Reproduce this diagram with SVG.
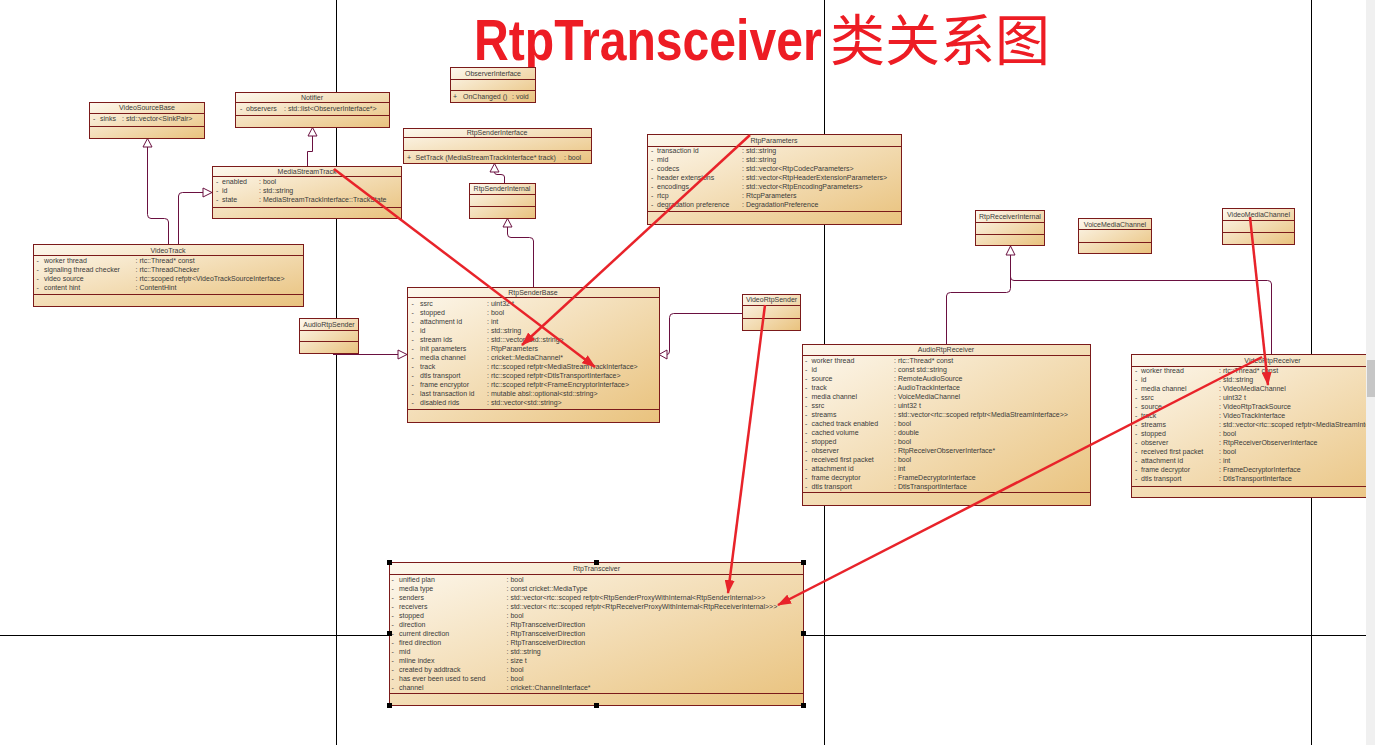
<svg xmlns="http://www.w3.org/2000/svg" width="1375" height="745" viewBox="0 0 1375 745">
<defs>
<linearGradient id="g" x1="0" y1="0" x2="1" y2="1">
<stop offset="0" stop-color="#fdf8ee"/>
<stop offset="1" stop-color="#e9c27d"/>
</linearGradient>
<marker id="ra" viewBox="0 0 14 10" refX="13" refY="5" markerUnits="userSpaceOnUse" markerWidth="14" markerHeight="10" orient="auto">
<path d="M0,0 L14,5 L0,10 z" fill="#e8232a"/>
</marker>
<style>
.box{fill:url(#g);stroke:#7b1a1a;stroke-width:1}
.sep{stroke:#7b1a1a;stroke-width:1}
.t{font-family:"Liberation Sans",Arial,sans-serif;font-size:7px;fill:#3a3a3a}
.c{text-anchor:middle}
.pg{stroke:#000;stroke-width:1}
.gen{fill:none;stroke:#6a1040;stroke-width:1}
.tri{fill:#fff;stroke:#6a1040;stroke-width:1}
.red{stroke:#e8232a;stroke-width:2.5;fill:none;marker-end:url(#ra)}
.h{fill:#000}
</style>
</defs>
<rect width="1375" height="745" fill="#fff"/>
<g id="page-lines">
<line class="pg" x1="336.5" y1="0" x2="336.5" y2="745"/>
<line class="pg" x1="824.5" y1="0" x2="824.5" y2="745"/>
<line class="pg" x1="1311.5" y1="0" x2="1311.5" y2="745"/>
<line class="pg" x1="0" y1="635.5" x2="1375" y2="635.5"/>
</g>
<g id="title">
<text transform="translate(474,60) scale(0.83,1)" font-family="'Liberation Sans',Arial,sans-serif" font-size="58" font-weight="bold" fill="#ed1c24">RtpTransceiver</text>
<text x="830" y="60" font-family="'Noto Sans CJK SC',sans-serif" font-size="55" fill="#ed1c24">类关系图</text>
</g>
<g id="connectors">
<path class="gen" d="M168.5,244 L168.5,222 Q168.5,218.5 164.5,218.5 L151,218.5 Q147.5,218.5 147.5,214.5 L147.5,147"/>
<polygon class="tri" points="147.5,138.5 143,147 152,147"/>
<path class="gen" d="M178.5,244 L178.5,196 Q178.5,192.5 182.5,192.5 L203,192.5"/>
<polygon class="tri" points="212,192.5 203,188 203,197"/>
<path class="gen" d="M307.5,166 L307.5,151.5 L312.5,151.5 L312.5,136"/>
<polygon class="tri" points="312.5,127.5 308,136 317,136"/>
<path class="gen" d="M504.5,183 L504.5,177 Q504.5,174.5 501,174.5 L497,174.5 Q494.5,174.5 494.5,172 L494.5,172"/>
<polygon class="tri" points="494.5,163.5 490,172 499,172"/>
<path class="gen" d="M533.5,287 L533.5,241 Q533.5,237.5 529.5,237.5 L511,237.5 Q507.5,237.5 507.5,234 L507.5,227"/>
<polygon class="tri" points="507.5,218.5 503,227 512,227"/>
<path class="gen" d="M333,354.5 L398,354.5"/>
<polygon class="tri" points="407,354.5 398,350 398,359"/>
<path class="gen" d="M742,313.5 L673.5,313.5 Q669.5,313.5 669.5,317.5 L669.5,351 Q669.5,354.5 667,354.5"/>
<polygon class="tri" points="659,354.5 667,350 667,359"/>
<path class="gen" d="M946.5,344 L946.5,296 Q946.5,292.5 950.5,292.5 L1006.5,292.5 Q1010.5,292.5 1010.5,288.5 L1010.5,255"/>
<polygon class="tri" points="1010.5,246 1006,255 1015,255"/>
<path class="gen" d="M1271.5,354 L1271.5,284 Q1271.5,280.5 1267.5,280.5 L1014,280.5 Q1010.5,280.5 1010.5,277"/>
</g>
<g id="VideoSourceBase">
<rect class="box" x="89.5" y="102.5" width="115" height="36"/>
<line class="sep" x1="89.5" y1="113.5" x2="204.5" y2="113.5"/>
<line class="sep" x1="89.5" y1="126.5" x2="204.5" y2="126.5"/>
<text class="t c" x="147" y="110">VideoSourceBase</text>
<text class="t" x="93" y="120.5">-</text><text class="t" x="100" y="120.5">sinks</text><text class="t" x="122" y="120.5">: std::vector&lt;SinkPair&gt;</text>
</g>
<g id="Notifier">
<rect class="box" x="235.5" y="92.5" width="154" height="35"/>
<line class="sep" x1="235.5" y1="102.5" x2="389.5" y2="102.5"/>
<line class="sep" x1="235.5" y1="115.5" x2="389.5" y2="115.5"/>
<text class="t c" x="312" y="100">Notifier</text>
<text class="t" x="240" y="110.5">-</text><text class="t" x="246" y="110.5">observers</text><text class="t" x="284" y="110.5">: std::list&lt;ObserverInterface*&gt;</text>
</g>
<g id="ObserverInterface">
<rect class="box" x="450.5" y="67.5" width="85" height="35"/>
<line class="sep" x1="450.5" y1="79.5" x2="535.5" y2="79.5"/>
<line class="sep" x1="450.5" y1="90.5" x2="535.5" y2="90.5"/>
<text class="t c" x="493" y="75.5">ObserverInterface</text>
<text class="t" x="453" y="98.5">+</text><text class="t" x="463" y="98.5">OnChanged ()</text><text class="t" x="512" y="98.5">: void</text>
</g>
<g id="RtpSenderInterface">
<rect class="box" x="403.5" y="128.5" width="188" height="35"/>
<line class="sep" x1="403.5" y1="137.5" x2="591.5" y2="137.5"/>
<line class="sep" x1="403.5" y1="150.5" x2="591.5" y2="150.5"/>
<text class="t c" x="497" y="135">RtpSenderInterface</text>
<text class="t" x="407" y="159.5">+</text><text class="t" x="415.5" y="159.5">SetTrack (MediaStreamTrackInterface* track)</text><text class="t" x="564" y="159.5">: bool</text>
</g>
<g id="RtpSenderInternal">
<rect class="box" x="469.5" y="183.5" width="66" height="35"/>
<line class="sep" x1="469.5" y1="194.5" x2="535.5" y2="194.5"/>
<line class="sep" x1="469.5" y1="206.5" x2="535.5" y2="206.5"/>
<text class="t c" x="502" y="191">RtpSenderInternal</text>
</g>
<g id="RtpParameters">
<rect class="box" x="647.5" y="134.5" width="254" height="90"/>
<line class="sep" x1="647.5" y1="146.5" x2="901.5" y2="146.5"/>
<line class="sep" x1="647.5" y1="211.5" x2="901.5" y2="211.5"/>
<text class="t c" x="774" y="142.5">RtpParameters</text>
<text class="t" x="651" y="152.5">-</text><text class="t" x="657" y="152.5">transaction id</text><text class="t" x="742" y="152.5">: std::string</text>
<text class="t" x="651" y="161.5">-</text><text class="t" x="657" y="161.5">mid</text><text class="t" x="742" y="161.5">: std::string</text>
<text class="t" x="651" y="170.5">-</text><text class="t" x="657" y="170.5">codecs</text><text class="t" x="742" y="170.5">: std::vector&lt;RtpCodecParameters&gt;</text>
<text class="t" x="651" y="179.5">-</text><text class="t" x="657" y="179.5">header extensions</text><text class="t" x="742" y="179.5">: std::vector&lt;RtpHeaderExtensionParameters&gt;</text>
<text class="t" x="651" y="188.5">-</text><text class="t" x="657" y="188.5">encodings</text><text class="t" x="742" y="188.5">: std::vector&lt;RtpEncodingParameters&gt;</text>
<text class="t" x="651" y="197.5">-</text><text class="t" x="657" y="197.5">rtcp</text><text class="t" x="742" y="197.5">: RtcpParameters</text>
<text class="t" x="651" y="206.5">-</text><text class="t" x="657" y="206.5">degradation preference</text><text class="t" x="742" y="206.5">: DegradationPreference</text>
</g>
<g id="MediaStreamTrack">
<rect class="box" x="212.5" y="166.5" width="189" height="52"/>
<line class="sep" x1="212.5" y1="176.5" x2="401.5" y2="176.5"/>
<line class="sep" x1="212.5" y1="207.5" x2="401.5" y2="207.5"/>
<text class="t c" x="307" y="174">MediaStreamTrack</text>
<text class="t" x="216" y="184">-</text><text class="t" x="222" y="184">enabled</text><text class="t" x="259" y="184">: bool</text>
<text class="t" x="216" y="193">-</text><text class="t" x="222" y="193">id</text><text class="t" x="259" y="193">: std::string</text>
<text class="t" x="216" y="202">-</text><text class="t" x="222" y="202">state</text><text class="t" x="259" y="202">: MediaStreamTrackInterface::TrackState</text>
</g>
<g id="VideoTrack">
<rect class="box" x="33.5" y="244.5" width="270" height="62"/>
<line class="sep" x1="33.5" y1="255.5" x2="303.5" y2="255.5"/>
<line class="sep" x1="33.5" y1="294.5" x2="303.5" y2="294.5"/>
<text class="t c" x="168" y="252.5">VideoTrack</text>
<text class="t" x="36.5" y="262.5">-</text><text class="t" x="44" y="262.5">worker thread</text><text class="t" x="135.5" y="262.5">: rtc::Thread* const</text>
<text class="t" x="36.5" y="271.5">-</text><text class="t" x="44" y="271.5">signaling thread checker</text><text class="t" x="135.5" y="271.5">: rtc::ThreadChecker</text>
<text class="t" x="36.5" y="280.5">-</text><text class="t" x="44" y="280.5">video source</text><text class="t" x="135.5" y="280.5">: rtc::scoped refptr&lt;VideoTrackSourceInterface&gt;</text>
<text class="t" x="36.5" y="289.5">-</text><text class="t" x="44" y="289.5">content hint</text><text class="t" x="135.5" y="289.5">: ContentHint</text>
</g>
<g id="RtpSenderBase">
<rect class="box" x="407.5" y="287.5" width="252" height="135"/>
<line class="sep" x1="407.5" y1="297.5" x2="659.5" y2="297.5"/>
<line class="sep" x1="407.5" y1="409.5" x2="659.5" y2="409.5"/>
<text class="t c" x="533" y="295">RtpSenderBase</text>
<text class="t" x="411.5" y="306">-</text><text class="t" x="420" y="306">ssrc</text><text class="t" x="487" y="306">: uint32 t</text>
<text class="t" x="411.5" y="315">-</text><text class="t" x="420" y="315">stopped</text><text class="t" x="487" y="315">: bool</text>
<text class="t" x="411.5" y="324">-</text><text class="t" x="420" y="324">attachment id</text><text class="t" x="487" y="324">: int</text>
<text class="t" x="411.5" y="333">-</text><text class="t" x="420" y="333">id</text><text class="t" x="487" y="333">: std::string</text>
<text class="t" x="411.5" y="342">-</text><text class="t" x="420" y="342">stream ids</text><text class="t" x="487" y="342">: std:::vector&lt;std::string&gt;</text>
<text class="t" x="411.5" y="351">-</text><text class="t" x="420" y="351">init parameters</text><text class="t" x="487" y="351">: RtpParameters</text>
<text class="t" x="411.5" y="360">-</text><text class="t" x="420" y="360">media channel</text><text class="t" x="487" y="360">: cricket::MediaChannel*</text>
<text class="t" x="411.5" y="369">-</text><text class="t" x="420" y="369">track</text><text class="t" x="487" y="369">: rtc::scoped refptr&lt;MediaStreamTrackInterface&gt;</text>
<text class="t" x="411.5" y="378">-</text><text class="t" x="420" y="378">dtls transport</text><text class="t" x="487" y="378">: rtc::scoped refptr&lt;DtlsTransportInterface&gt;</text>
<text class="t" x="411.5" y="387">-</text><text class="t" x="420" y="387">frame encryptor</text><text class="t" x="487" y="387">: rtc::scoped refptr&lt;FrameEncryptorInterface&gt;</text>
<text class="t" x="411.5" y="396">-</text><text class="t" x="420" y="396">last transaction id</text><text class="t" x="487" y="396">: mutable absl::optional&lt;std::string&gt;</text>
<text class="t" x="411.5" y="405">-</text><text class="t" x="420" y="405">disabled rids</text><text class="t" x="487" y="405">: std::vector&lt;std::string&gt;</text>
</g>
<g id="AudioRtpSender">
<rect class="box" x="299.5" y="318.5" width="59" height="35"/>
<line class="sep" x1="299.5" y1="330.5" x2="358.5" y2="330.5"/>
<line class="sep" x1="299.5" y1="341.5" x2="358.5" y2="341.5"/>
<text class="t c" x="329" y="326.5">AudioRtpSender</text>
</g>
<g id="VideoRtpSender">
<rect class="box" x="742.5" y="294.5" width="58" height="36"/>
<line class="sep" x1="742.5" y1="305.5" x2="800.5" y2="305.5"/>
<line class="sep" x1="742.5" y1="318.5" x2="800.5" y2="318.5"/>
<text class="t c" x="771.5" y="302">VideoRtpSender</text>
</g>
<g id="RtpReceiverInternal">
<rect class="box" x="975.5" y="210.5" width="69" height="35"/>
<line class="sep" x1="975.5" y1="222.5" x2="1044.5" y2="222.5"/>
<line class="sep" x1="975.5" y1="234.5" x2="1044.5" y2="234.5"/>
<text class="t c" x="1010" y="218.5">RtpReceiverInternal</text>
</g>
<g id="VoiceMediaChannel">
<rect class="box" x="1078.5" y="218.5" width="73" height="35"/>
<line class="sep" x1="1078.5" y1="229.5" x2="1151.5" y2="229.5"/>
<line class="sep" x1="1078.5" y1="242.5" x2="1151.5" y2="242.5"/>
<text class="t c" x="1115" y="226.5">VoiceMediaChannel</text>
</g>
<g id="VideoMediaChannel">
<rect class="box" x="1222.5" y="208.5" width="72" height="36"/>
<line class="sep" x1="1222.5" y1="220.5" x2="1294.5" y2="220.5"/>
<line class="sep" x1="1222.5" y1="232.5" x2="1294.5" y2="232.5"/>
<text class="t c" x="1258.5" y="216.5">VideoMediaChannel</text>
</g>
<g id="AudioRtpReceiver">
<rect class="box" x="802.5" y="344.5" width="288" height="161"/>
<line class="sep" x1="802.5" y1="355.5" x2="1090.5" y2="355.5"/>
<line class="sep" x1="802.5" y1="492.5" x2="1090.5" y2="492.5"/>
<text class="t c" x="946" y="352">AudioRtpReceiver</text>
<text class="t" x="805" y="363">-</text><text class="t" x="811.5" y="363">worker thread</text><text class="t" x="894" y="363">: rtc::Thread* const</text>
<text class="t" x="805" y="372">-</text><text class="t" x="811.5" y="372">id</text><text class="t" x="894" y="372">: const std::string</text>
<text class="t" x="805" y="381">-</text><text class="t" x="811.5" y="381">source</text><text class="t" x="894" y="381">: RemoteAudioSource</text>
<text class="t" x="805" y="390">-</text><text class="t" x="811.5" y="390">track</text><text class="t" x="894" y="390">: AudioTrackInterface</text>
<text class="t" x="805" y="399">-</text><text class="t" x="811.5" y="399">media channel</text><text class="t" x="894" y="399">: VoiceMediaChannel</text>
<text class="t" x="805" y="408">-</text><text class="t" x="811.5" y="408">ssrc</text><text class="t" x="894" y="408">: uint32 t</text>
<text class="t" x="805" y="417">-</text><text class="t" x="811.5" y="417">streams</text><text class="t" x="894" y="417">: std::vector&lt;rtc::scoped refptr&lt;MediaStreamInterface&gt;&gt;</text>
<text class="t" x="805" y="426">-</text><text class="t" x="811.5" y="426">cached track enabled</text><text class="t" x="894" y="426">: bool</text>
<text class="t" x="805" y="435">-</text><text class="t" x="811.5" y="435">cached volume</text><text class="t" x="894" y="435">: double</text>
<text class="t" x="805" y="444">-</text><text class="t" x="811.5" y="444">stopped</text><text class="t" x="894" y="444">: bool</text>
<text class="t" x="805" y="453">-</text><text class="t" x="811.5" y="453">observer</text><text class="t" x="894" y="453">: RtpReceiverObserverInterface*</text>
<text class="t" x="805" y="462">-</text><text class="t" x="811.5" y="462">received first packet</text><text class="t" x="894" y="462">: bool</text>
<text class="t" x="805" y="471">-</text><text class="t" x="811.5" y="471">attachment id</text><text class="t" x="894" y="471">: int</text>
<text class="t" x="805" y="480">-</text><text class="t" x="811.5" y="480">frame decryptor</text><text class="t" x="894" y="480">: FrameDecryptorInterface</text>
<text class="t" x="805" y="489">-</text><text class="t" x="811.5" y="489">dtls transport</text><text class="t" x="894" y="489">: DtlsTransportInterface</text>
</g>
<g id="VideoRtpReceiver">
<rect class="box" x="1131.5" y="354.5" width="282" height="143"/>
<line class="sep" x1="1131.5" y1="366.5" x2="1413.5" y2="366.5"/>
<line class="sep" x1="1131.5" y1="486.5" x2="1413.5" y2="486.5"/>
<text class="t c" x="1272.5" y="362.5">VideoRtpReceiver</text>
<text class="t" x="1135" y="373">-</text><text class="t" x="1141" y="373">worker thread</text><text class="t" x="1219" y="373">: rtc::Thread* const</text>
<text class="t" x="1135" y="382">-</text><text class="t" x="1141" y="382">id</text><text class="t" x="1219" y="382">: std::string</text>
<text class="t" x="1135" y="391">-</text><text class="t" x="1141" y="391">media channel</text><text class="t" x="1219" y="391">: VideoMediaChannel</text>
<text class="t" x="1135" y="400">-</text><text class="t" x="1141" y="400">ssrc</text><text class="t" x="1219" y="400">: uint32 t</text>
<text class="t" x="1135" y="409">-</text><text class="t" x="1141" y="409">source</text><text class="t" x="1219" y="409">: VideoRtpTrackSource</text>
<text class="t" x="1135" y="418">-</text><text class="t" x="1141" y="418">track</text><text class="t" x="1219" y="418">: VideoTrackInterface</text>
<text class="t" x="1135" y="427">-</text><text class="t" x="1141" y="427">streams</text><text class="t" x="1219" y="427">: std::vector&lt;rtc::scoped refptr&lt;MediaStreamInterface&gt;&gt;</text>
<text class="t" x="1135" y="436">-</text><text class="t" x="1141" y="436">stopped</text><text class="t" x="1219" y="436">: bool</text>
<text class="t" x="1135" y="445">-</text><text class="t" x="1141" y="445">observer</text><text class="t" x="1219" y="445">: RtpReceiverObserverInterface</text>
<text class="t" x="1135" y="454">-</text><text class="t" x="1141" y="454">received first packet</text><text class="t" x="1219" y="454">: bool</text>
<text class="t" x="1135" y="463">-</text><text class="t" x="1141" y="463">attachment id</text><text class="t" x="1219" y="463">: int</text>
<text class="t" x="1135" y="472">-</text><text class="t" x="1141" y="472">frame decryptor</text><text class="t" x="1219" y="472">: FrameDecryptorInterface</text>
<text class="t" x="1135" y="481">-</text><text class="t" x="1141" y="481">dtls transport</text><text class="t" x="1219" y="481">: DtlsTransportInterface</text>
</g>
<g id="RtpTransceiver">
<rect class="box" x="389.5" y="562.5" width="414" height="143"/>
<line class="sep" x1="389.5" y1="574.5" x2="803.5" y2="574.5"/>
<line class="sep" x1="389.5" y1="693.5" x2="803.5" y2="693.5"/>
<text class="t c" x="596.5" y="570.5">RtpTransceiver</text>
<text class="t" x="391.5" y="581.5">-</text><text class="t" x="399" y="581.5">unified plan</text><text class="t" x="506.5" y="581.5">: bool</text>
<text class="t" x="391.5" y="590.5">-</text><text class="t" x="399" y="590.5">media type</text><text class="t" x="506.5" y="590.5">: const cricket::MediaType</text>
<text class="t" x="391.5" y="599.5">-</text><text class="t" x="399" y="599.5">senders</text><text class="t" x="506.5" y="599.5">: std::vector&lt;rtc::scoped refptr&lt;RtpSenderProxyWithInternal&lt;RtpSenderInternal&gt;&gt;&gt;</text>
<text class="t" x="391.5" y="608.5">-</text><text class="t" x="399" y="608.5">receivers</text><text class="t" x="506.5" y="608.5">: std::vector&lt; rtc::scoped refptr&lt;RtpReceiverProxyWithInternal&lt;RtpReceiverInternal&gt;&gt;&gt;</text>
<text class="t" x="391.5" y="617.5">-</text><text class="t" x="399" y="617.5">stopped</text><text class="t" x="506.5" y="617.5">: bool</text>
<text class="t" x="391.5" y="626.5">-</text><text class="t" x="399" y="626.5">direction</text><text class="t" x="506.5" y="626.5">: RtpTransceiverDirection</text>
<text class="t" x="391.5" y="635.5">-</text><text class="t" x="399" y="635.5">current direction</text><text class="t" x="506.5" y="635.5">: RtpTransceiverDirection</text>
<text class="t" x="391.5" y="644.5">-</text><text class="t" x="399" y="644.5">fired direction</text><text class="t" x="506.5" y="644.5">: RtpTransceiverDirection</text>
<text class="t" x="391.5" y="653.5">-</text><text class="t" x="399" y="653.5">mid</text><text class="t" x="506.5" y="653.5">: std::string</text>
<text class="t" x="391.5" y="662.5">-</text><text class="t" x="399" y="662.5">mline index</text><text class="t" x="506.5" y="662.5">: size t</text>
<text class="t" x="391.5" y="671.5">-</text><text class="t" x="399" y="671.5">created by addtrack</text><text class="t" x="506.5" y="671.5">: bool</text>
<text class="t" x="391.5" y="680.5">-</text><text class="t" x="399" y="680.5">has ever been used to send</text><text class="t" x="506.5" y="680.5">: bool</text>
<text class="t" x="391.5" y="689.5">-</text><text class="t" x="399" y="689.5">channel</text><text class="t" x="506.5" y="689.5">: cricket::ChannelInterface*</text>
<rect class="h" x="387" y="560" width="5" height="5"/>
<rect class="h" x="594" y="560" width="5" height="5"/>
<rect class="h" x="801" y="560" width="5" height="5"/>
<rect class="h" x="387" y="631" width="5" height="5"/>
<rect class="h" x="801" y="631" width="5" height="5"/>
<rect class="h" x="387" y="703" width="5" height="5"/>
<rect class="h" x="594" y="703" width="5" height="5"/>
<rect class="h" x="801" y="703" width="5" height="5"/>
</g>
<g id="red-arrows">
<line class="red" x1="334" y1="169" x2="595" y2="367"/>
<line class="red" x1="750" y1="135" x2="522" y2="345"/>
<line class="red" x1="765" y1="305" x2="728" y2="593"/>
<line class="red" x1="1262" y1="357" x2="778" y2="605"/>
<line class="red" x1="1250" y1="217" x2="1268" y2="385"/>
</g>
<g id="scrollbar">
<rect x="1366" y="0" width="9" height="745" fill="#f0f0f0"/>
<rect x="1367" y="360" width="8" height="37" fill="#c6c6c6"/>
</g>
</svg>
